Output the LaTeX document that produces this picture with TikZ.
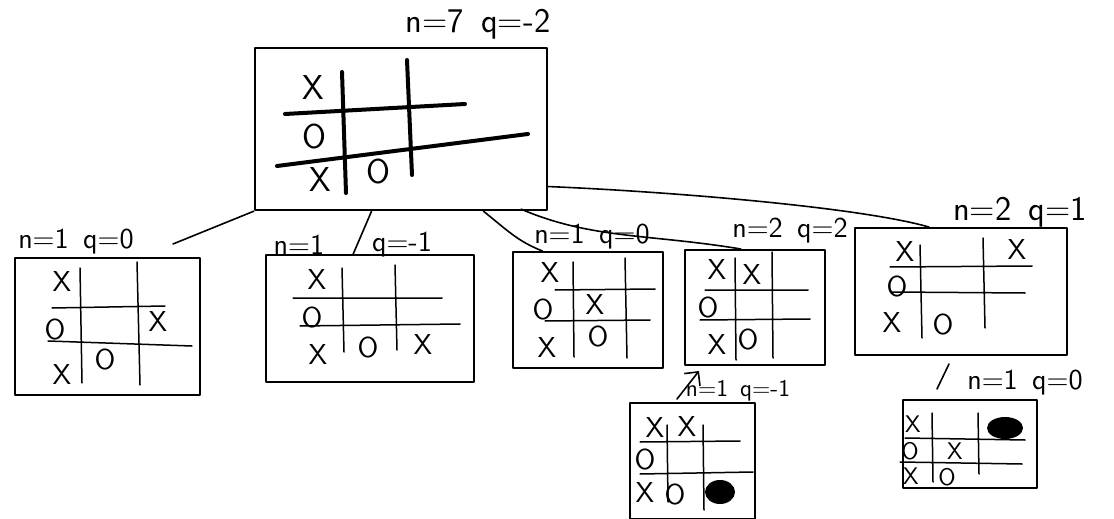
\documentclass[tikz,border=0pt]{standalone}
\usetikzlibrary{fit,calc,arrows.meta}

\tikzset{
  board/.style={draw,line width=1pt,inner sep=0pt},
  gline/.style={line width=0.75pt,line cap=round},
  mk/.style={font=\sffamily\Large,inner sep=0pt},
  lbl/.style={font=\sffamily\Large,inner sep=0pt},
  link/.style={line width=0.8pt,line cap=round},
}

\begin{document}
\begin{tikzpicture}[x=0.5pt,y=-0.5pt,line join=round]
\useasboundingbox (0,0) rectangle (1114,519);

% Wurzel: Stellung mit 7 Besuchen
\node[board,line width=1.2pt,fit={(255,48) (547,210)}] (root) {};
\node[lbl,font=\sffamily\LARGE] (lroot) at (478,24) {n=7\enspace q=-2};
\draw[gline,line width=2pt] (285,114) -- (465,104)
  (277,166) -- (528,134)
  (342,72) -- (346,193)
  (407,60) -- (412,175);
\foreach \px/\py/\t [count=\i] in {313/88/X,314/137/O,320/180/X,378/172/O}
  \node[mk,font=\sffamily\LARGE] (root-\i) at (\px,\py) {\t};

% Kinder (erste Ebene)
\node[board,fit={(15,258) (200,395)}] (A) {};
\node[lbl] (lA) at (76,242) {n=1\enspace q=0};
\draw[gline] (80,268) -- (82,383)  (137,262) -- (140,385)
  (52,308) -- (165,306)  (48,341) -- (192,346);
\foreach \px/\py/\t [count=\i] in {62/282/X,55/330/O,158/322/X,62/375/X,105/360/O}
  \node[mk] (A-\i) at (\px,\py) {\t};

\node[board,fit={(266,255) (474,382)}] (B) {};
\node[lbl] (lB1) at (299,245) {n=1};
\node[lbl] (lB2) at (402,245) {q=-1};
\draw[gline] (342,268) -- (344,352)  (395,265) -- (397,350)
  (293,298) -- (442,298)  (300,326) -- (460,324);
\foreach \px/\py/\t [count=\i] in {317/280/X,312/318/O,318/355/X,368/348/O,423/345/X}
  \node[mk] (B-\i) at (\px,\py) {\t};

\node[board,fit={(513,252) (663,368)}] (C) {};
\node[lbl] (lC) at (592,237) {n=1\enspace q=0};
\draw[gline] (573,262) -- (574,357)  (625,258) -- (627,358)
  (555,290) -- (655,289)  (545,321) -- (650,320);
\foreach \px/\py/\t [count=\i] in {550/273/X,543/310/O,595/305/X,547/348/X,598/337/O}
  \node[mk] (C-\i) at (\px,\py) {\t};

\node[board,fit={(685,250) (825,365)}] (D) {};
\node[lbl] (lD) at (790,231) {n=2\enspace q=2};
\draw[gline] (735,258) -- (736,360)  (772,252) -- (773,358)
  (705,290) -- (808,290)  (700,320) -- (810,319);
\foreach \px/\py/\t [count=\i] in {717/270/X,752/275/X,708/308/O,717/345/X,748/340/O}
  \node[mk] (D-\i) at (\px,\py) {\t};

\node[board,fit={(855,228) (1067,355)}] (E) {};
\node[lbl,font=\sffamily\LARGE] (lE) at (1020,212) {n=2\enspace q=1};
\draw[gline] (920,245) -- (922,338)  (983,238) -- (985,328)
  (890,267) -- (1032,266)  (892,292) -- (1025,293);
\foreach \px/\py/\t [count=\i] in {905/252/X,1017/250/X,897/287/O,892/323/X,943/325/O}
  \node[mk] (E-\i) at (\px,\py) {\t};

% zweite Ebene
\node[board,fit={(630,403) (755,519)}] (D1) {};
\node[lbl,font=\sffamily\large] (lD1) at (738,391) {n=1\enspace q=-1};
\draw[gline] (667,425) -- (668,502)  (703,425) -- (704,510)
  (640,442) -- (740,441)  (640,474) -- (753,472);
\foreach \px/\py/\t [count=\i] in {655/428/X,687/427/X,645/460/O,645/493/X,675/495/O}
  \node[mk] (D1-\i) at (\px,\py) {\t};
\fill (720,492) ellipse [x radius=7.5pt,y radius=6pt];

\node[board,fit={(903,400) (1037,488)}] (E1) {};
\node[lbl] (lE1) at (1025,383) {n=1\enspace q=0};
\draw[gline] (932,413) -- (933,482)  (978,413) -- (979,474)
  (905,438) -- (1025,440)  (900,462) -- (1022,464);
\foreach \px/\py/\t [count=\i] in {913/424/X,910/451/O,955/451/X,911/476/X,947/477/O}
  \node[mk,font=\sffamily\large] (E1-\i) at (\px,\py) {\t};
\fill (1005,428) ellipse [x radius=9pt,y radius=5.5pt];

% Kanten
\draw[link] (root.south west) -- ($(A.north east)+(-28,-13)$);
\draw[link] ($(root.south west)!0.4!(root.south east)$) -- ($(B.north west)!0.42!(B.north east)$);
\draw[link] ($(root.south west)!0.78!(root.south east)$)
  .. controls +(25,20) and +(-25,-10) .. ($(C.north west)!0.2!(C.north east)$);
\draw[link] ($(root.south east)+(-27,-2)$)
  .. controls +(70,30) and +(-90,-15) .. ($(D.north west)!0.4!(D.north east)$);
\draw[link] ($(root.south east)!0.15!(root.north east)$)
  .. controls +(120,5) and +(-70,-20) .. ($(E.north west)!0.35!(E.north east)$);
\draw[link,-{Straight Barb[length=5pt]}] ($(D1.north west)+(48,-3)$) -- ($(D.south west)+(15,5)$);
\draw[link] ($(E1.north west)+(35,-10)$) -- ($(E.south west)+(95,8)$);

\end{tikzpicture}
\end{document}
